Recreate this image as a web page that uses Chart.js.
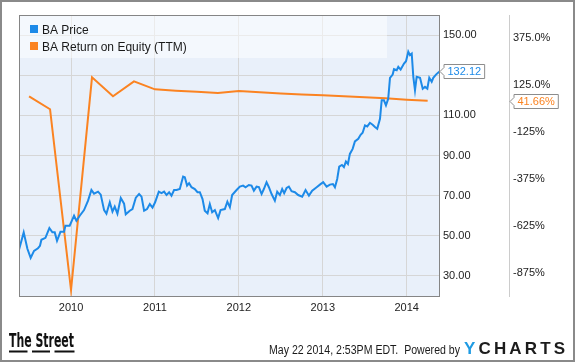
<!DOCTYPE html>
<html>
<head>
<meta charset="utf-8">
<script src="https://cdn.jsdelivr.net/npm/chart.js"></script>
<style>
  body { margin: 0; background: #fff; }
  canvas { display: block; }
</style>
</head>
<body>
<canvas id="baChart" width="575" height="362"></canvas>
<script>
// dates are decimal years (2010.5 = start of July 2010)
const priceDates = [
  2009.380, 2009.436, 2009.480, 2009.519, 2009.559, 2009.606, 2009.630, 2009.647, 2009.695, 2009.742,
  2009.778, 2009.806, 2009.833, 2009.874, 2009.917, 2009.933, 2009.984, 2010.036, 2010.064, 2010.104,
  2010.155, 2010.203, 2010.243, 2010.274, 2010.322, 2010.354, 2010.394, 2010.422, 2010.462, 2010.494,
  2010.521, 2010.553, 2010.593, 2010.632, 2010.652, 2010.700, 2010.732, 2010.772, 2010.811, 2010.840,
  2010.871, 2010.906, 2010.939, 2010.971, 2011.002, 2011.046, 2011.078, 2011.109, 2011.138, 2011.169,
  2011.197, 2011.228, 2011.257, 2011.296, 2011.336, 2011.356, 2011.383, 2011.407, 2011.436, 2011.475,
  2011.507, 2011.535, 2011.567, 2011.594, 2011.627, 2011.654, 2011.682, 2011.714, 2011.753, 2011.782,
  2011.833, 2011.863, 2011.893, 2011.920, 2011.973, 2012.012, 2012.051, 2012.080, 2012.119, 2012.151,
  2012.179, 2012.211, 2012.239, 2012.271, 2012.298, 2012.330, 2012.358, 2012.390, 2012.429, 2012.457,
  2012.489, 2012.516, 2012.540, 2012.569, 2012.596, 2012.628, 2012.668, 2012.707, 2012.755, 2012.795,
  2012.835, 2012.874, 2012.927, 2012.966, 2013.005, 2013.046, 2013.085, 2013.121, 2013.145, 2013.172,
  2013.196, 2013.228, 2013.252, 2013.276, 2013.300, 2013.323, 2013.356, 2013.383, 2013.423, 2013.451,
  2013.475, 2013.503, 2013.530, 2013.562, 2013.594, 2013.622, 2013.649, 2013.682, 2013.702, 2013.729,
  2013.753, 2013.780, 2013.801, 2013.833, 2013.849, 2013.881, 2013.900, 2013.928, 2013.968, 2013.992,
  2014.019, 2014.039, 2014.060, 2014.079, 2014.099, 2014.119, 2014.159, 2014.191, 2014.218, 2014.246,
  2014.269, 2014.298, 2014.317, 2014.349, 2014.377, 2014.397
];
const priceValues = [
  43.0, 51.7, 43.5, 39.0, 42.5, 43.8, 45.0, 48.0, 49.0, 53.8,
  51.7, 51.7, 47.5, 52.0, 52.0, 55.0, 55.0, 60.0, 57.5, 60.0,
  62.8, 67.5, 72.8, 71.0, 72.0, 70.5, 62.8, 61.0, 66.7, 62.0,
  64.5, 61.0, 68.8, 66.0, 60.7, 62.5, 63.3, 69.0, 70.8, 69.5,
  62.5, 63.3, 65.8, 64.0, 66.7, 72.0, 71.3, 72.0, 70.3, 71.7,
  70.0, 72.8, 72.8, 73.3, 79.5, 79.2, 75.0, 76.2, 74.2, 73.3,
  71.7, 71.7, 68.3, 62.5, 61.2, 65.8, 61.7, 62.8, 58.8, 62.8,
  63.3, 67.0, 64.2, 70.3, 72.8, 74.5, 75.0, 74.2, 75.3, 75.0,
  72.5, 74.5, 74.2, 70.8, 73.3, 76.7, 74.2, 70.8, 67.5, 72.0,
  70.3, 73.3, 71.2, 73.8, 74.5, 72.2, 71.7, 70.3, 69.5, 72.8,
  70.0, 72.5, 74.2, 75.5, 76.7, 74.5, 75.5, 75.8, 74.2, 78.3,
  84.5, 85.3, 84.2, 87.0, 85.8, 90.8, 93.3, 97.0, 98.3, 100.3,
  101.3, 105.0, 104.5, 106.3, 105.3, 104.2, 103.3, 108.3, 117.5, 117.5,
  115.0, 118.3, 128.7, 130.3, 133.0, 132.5, 134.2, 132.8, 135.8, 137.0,
  141.7, 140.0, 140.8, 129.2, 122.5, 129.2, 128.7, 123.3, 124.2, 123.3,
  128.7, 126.7, 128.7, 130.3, 131.3, 132.12
];

// quarterly return on equity, in percent
const roeDates = [2009.5, 2009.75, 2010.0, 2010.25, 2010.5, 2010.75, 2011.0, 2011.25, 2011.5, 2011.75,
                  2012.0, 2012.25, 2012.5, 2012.75, 2013.0, 2013.25, 2013.5, 2013.75, 2014.0, 2014.25];
const roeValues = [66, -3, -968, 167, 66, 146, 103, 96, 90, 84,
                   94, 88, 81, 76, 71, 66, 61, 55, 48, 41.66];

const yearTicks = [2010, 2011, 2012, 2013, 2014];
const priceTicks = [30, 50, 70, 90, 110, 130, 150];
const roeTicks = [-875, -625, -375, -125, 125, 375];
const seriesNames = ['BA Price', 'BA Return on Equity (TTM)'];
const seriesColors = ['#1d8ae8', '#fb8321'];

const FONT = '"Liberation Sans", Arial, sans-serif';
Chart.defaults.font.family = FONT;
Chart.defaults.color = '#222';

function valueTag(ctx, tipX, cy, text, color) {
  ctx.font = '11px ' + FONT;
  const w = ctx.measureText(text).width + 7;
  const left = tipX + 4, h = 14, top = cy - h / 2;
  ctx.beginPath();
  ctx.moveTo(tipX, cy);
  ctx.lineTo(left, cy - 4);
  ctx.lineTo(left, top);
  ctx.lineTo(left + w, top);
  ctx.lineTo(left + w, top + h);
  ctx.lineTo(left, top + h);
  ctx.lineTo(left, cy + 4);
  ctx.closePath();
  ctx.fillStyle = '#fff';
  ctx.fill();
  ctx.strokeStyle = '#8c8c8c';
  ctx.lineWidth = 1;
  ctx.stroke();
  ctx.fillStyle = color;
  ctx.textBaseline = 'middle';
  ctx.textAlign = 'left';
  ctx.fillText(text, left + 3.5, cy + 0.5);
}

const decorations = {
  id: 'decorations',
  beforeDraw(chart) {
    const {ctx, chartArea: a} = chart;
    ctx.save();
    ctx.fillStyle = '#fff';
    ctx.fillRect(0, 0, chart.width, chart.height);
    ctx.fillStyle = '#e9f0fa';
    ctx.fillRect(a.left, a.top, a.right - a.left, a.bottom - a.top);
    ctx.restore();
  },
  beforeDatasetsDraw(chart) {
    // legend sits inside the plot, on a lighter panel
    const {ctx, chartArea: a} = chart;
    ctx.save();
    ctx.fillStyle = 'rgba(255,255,255,0.5)';
    ctx.fillRect(a.left, a.top, 368, 43);
    ctx.font = '12px ' + FONT;
    ctx.textBaseline = 'alphabetic';
    chart.data.datasets.forEach((ds, i) => {
      const y = a.top + 10 + i * 17;
      ctx.fillStyle = ds.borderColor;
      ctx.fillRect(a.left + 11, y, 8, 8);
      ctx.fillStyle = '#1a1a1a';
      ctx.fillText(ds.label, a.left + 23, y + 8.5);
    });
    ctx.restore();
  },
  afterDraw(chart) {
    const {ctx, chartArea: a, scales} = chart;
    ctx.save();
    // plot frame
    ctx.strokeStyle = '#858585';
    ctx.lineWidth = 1;
    ctx.strokeRect(a.left + 0.5, a.top + 0.5, a.right - a.left - 1, a.bottom - a.top);

    // last value tags
    const lastPrice = priceValues[priceValues.length - 1];
    const lastRoe = roeValues[roeValues.length - 1];
    valueTag(ctx, a.right, Math.round(scales.y.getPixelForValue(lastPrice)) + 0.5, lastPrice.toFixed(2), seriesColors[0]);
    valueTag(ctx, scales.y2.left + 1, Math.round(scales.y2.getPixelForValue(lastRoe)) + 0.5, lastRoe.toFixed(2) + '%', seriesColors[1]);

    // footer
    ctx.fillStyle = '#111';
    ctx.textBaseline = 'alphabetic';
    ctx.textAlign = 'left';
    ctx.font = 'bold 19px "Liberation Sans Narrow", "DejaVu Sans Condensed", ' + FONT;
    ctx.fillText('The Street', 9, 347, 65);
    ctx.fillRect(9, 350.5, 18.5, 2);
    ctx.fillRect(32, 350.5, 18, 2);
    ctx.fillRect(54.5, 350.5, 20, 2);

    ctx.fillStyle = '#1a1a1a';
    ctx.font = '12px ' + FONT;
    ctx.fillText('May 22 2014, 2:53PM EDT.  Powered by', 269, 354, 191);

    ctx.font = 'bold 17px ' + FONT;
    const logo = 'YCHARTS';
    const widths = [...logo].map(c => ctx.measureText(c).width);
    const gap = (101 - widths.reduce((s, w) => s + w, 0)) / (logo.length - 1);
    let lx = 464;
    [...logo].forEach((c, i) => {
      ctx.fillStyle = i === 0 ? '#1f9be3' : '#1c1c1c';
      ctx.fillText(c, lx, 354);
      lx += widths[i] + gap;
    });

    // outer frame
    ctx.strokeStyle = '#8a8a8a';
    ctx.lineWidth = 2;
    ctx.strokeRect(1, 1, chart.width - 2, chart.height - 2);
    ctx.restore();
  }
};

new Chart(document.getElementById('baChart'), {
  type: 'line',
  data: {
    datasets: [{
      label: seriesNames[0],
      data: priceDates.map((d, i) => ({x: d, y: priceValues[i]})),
      borderColor: seriesColors[0],
      backgroundColor: seriesColors[0],
      borderWidth: 2,
      pointRadius: 0,
      tension: 0,
      yAxisID: 'y'
    }, {
      label: seriesNames[1],
      data: roeDates.map((d, i) => ({x: d, y: roeValues[i]})),
      borderColor: seriesColors[1],
      backgroundColor: seriesColors[1],
      borderWidth: 2,
      pointRadius: 0,
      tension: 0,
      yAxisID: 'y2'
    }]
  },
  options: {
    responsive: false,
    animation: false,
    layout: { padding: { left: 19, top: 15, right: 0, bottom: 0 } },
    plugins: { legend: { display: false }, tooltip: { enabled: false } },
    scales: {
      x: {
        type: 'linear',
        min: 2009.38,
        max: 2014.397,
        afterBuildTicks: s => { s.ticks = yearTicks.map(v => ({value: v})); },
        afterFit: s => { s.height = 66; },
        grid: { color: '#d6d6d6', drawTicks: false },
        border: { display: false },
        ticks: { padding: 5, color: '#222', font: { size: 11 }, maxRotation: 0, callback: v => String(v) }
      },
      y: {
        position: 'right',
        min: 20,
        max: 160,
        afterBuildTicks: s => { s.ticks = priceTicks.map(v => ({value: v})); },
        afterFit: s => { s.width = 69; },
        grid: { color: '#d6d6d6', drawTicks: false },
        border: { display: false },
        ticks: {
          padding: 3, color: '#222', font: { size: 11 },
          // the last value tag sits on top of the nearest label
          callback: v => Math.abs(v - priceValues[priceValues.length - 1]) < 5 ? '' : v.toFixed(2)
        }
      },
      y2: {
        position: 'right',
        min: -1000,
        max: 500,
        afterBuildTicks: s => { s.ticks = roeTicks.map(v => ({value: v})); },
        afterFit: s => { s.width = 66; },
        grid: { drawOnChartArea: false, drawTicks: false },
        border: { display: true, color: '#cccccc' },
        ticks: { padding: 4, color: '#222', font: { size: 11 }, callback: v => v > 0 ? v.toFixed(1) + '%' : v + '%' }
      }
    }
  },
  plugins: [decorations]
});
</script>
</body>
</html>
